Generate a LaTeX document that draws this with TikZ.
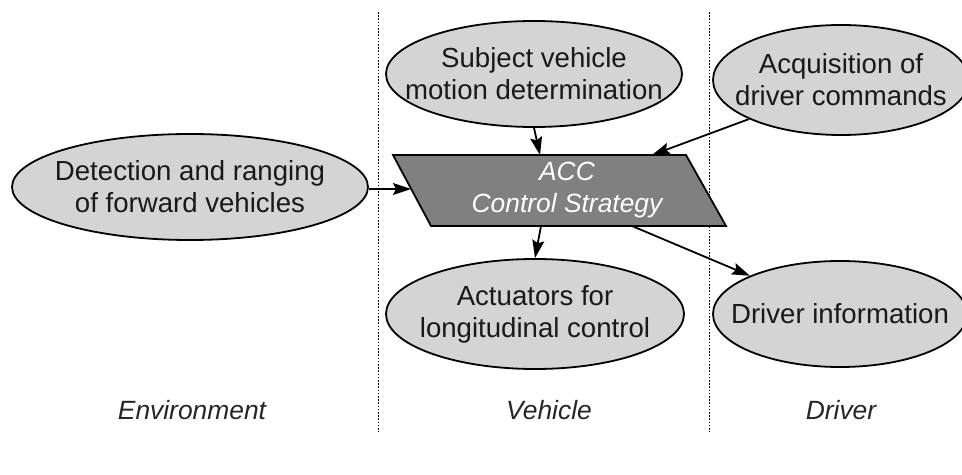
\documentclass[tikz,border=0pt]{standalone}
\usepackage{fontspec}
\setmainfont{Liberation Sans}
\usetikzlibrary{arrows.meta,shapes.geometric}
\definecolor{blobgray}{gray}{0.83}
\definecolor{boxgray}{gray}{0.5}
\tikzset{
  blob/.style={ellipse, draw, line width=0.9pt, fill=blobgray, inner sep=0pt},
  txt/.style={align=center, font=\fontsize{13.8}{16}\selectfont, text=black!90},
  zone/.style={font=\fontsize{13.2}{16}\selectfont\itshape, text=black!85},
  lane/.style={line width=0.5pt, dash pattern=on 0.8pt off 0.8pt},
  flow/.style={line width=0.9pt, -{Stealth[length=9pt,width=6pt,inset=1.5pt]}}
}

\begin{document}
\begin{tikzpicture}[x=0.5pt, y=-0.5pt]
  \useasboundingbox (0,0) rectangle (962,475);
  % lane borders
  \coordinate (envtop) at (378,12);  \coordinate (envbot) at (378,432);
  \coordinate (drvtop) at (709,12);  \coordinate (drvbot) at (709,432);
  \draw[lane] (envtop) -- (envbot);
  \draw[lane] (drvtop) -- (drvbot);
  % lane names
  \node[zone] (envname) at (192,410) {Environment};
  \node[zone] (vehname) at (549,410) {Vehicle};
  \node[zone] (drvname) at (841,410) {Driver};
  % functions
  \node[blob, minimum width=148pt, minimum height=53pt,
        label={[txt]center:Subject vehicle\\motion determination}] (subj) at (534,74) {};
  \node[blob, minimum width=128pt, minimum height=55pt,
        label={[txt]center:Acquisition of\\driver commands}] (acq) at (841,80) {};
  \node[blob, minimum width=178pt, minimum height=53pt,
        label={[txt]center:Detection and ranging\\of forward vehicles}] (detect) at (190,187) {};
  \node[blob, minimum width=149pt, minimum height=55pt,
        label={[txt]center:Actuators for\\longitudinal control}] (act) at (535,314) {};
  \node[blob, minimum width=127pt, minimum height=53pt,
        label={[txt]center:Driver information}] (drvinfo) at (840,314) {};
  % control strategy (slanted box)
  \coordinate (acctl) at (393,155); \coordinate (acctr) at (686,155);
  \coordinate (accbr) at (726,226); \coordinate (accbl) at (431,226);
  \draw[line width=0.9pt, fill=boxgray] (acctl) -- (acctr) -- (accbr) -- (accbl) -- cycle;
  \node[txt, text=white, font=\fontsize{13.2}{16}\selectfont\itshape] (acc) at (567,190) {ACC\\Control Strategy};
  % arrow ends on the box
  \coordinate (accin)  at (411,189);
  \coordinate (acctop) at (540,155);
  \coordinate (acccmd) at (652,155);
  \coordinate (accact) at (541,226);
  \coordinate (accdrv) at (632,226);
  % signal flow
  \draw[flow] (detect.east |- accin) -- (accin);
  \draw[flow] (subj.south) -- (acctop);
  \draw[flow] (acq.203) -- (acccmd);
  \draw[flow] (accact) -- (act.north);
  \draw[flow] (accdrv) -- (drvinfo.157);
\end{tikzpicture}
\end{document}
